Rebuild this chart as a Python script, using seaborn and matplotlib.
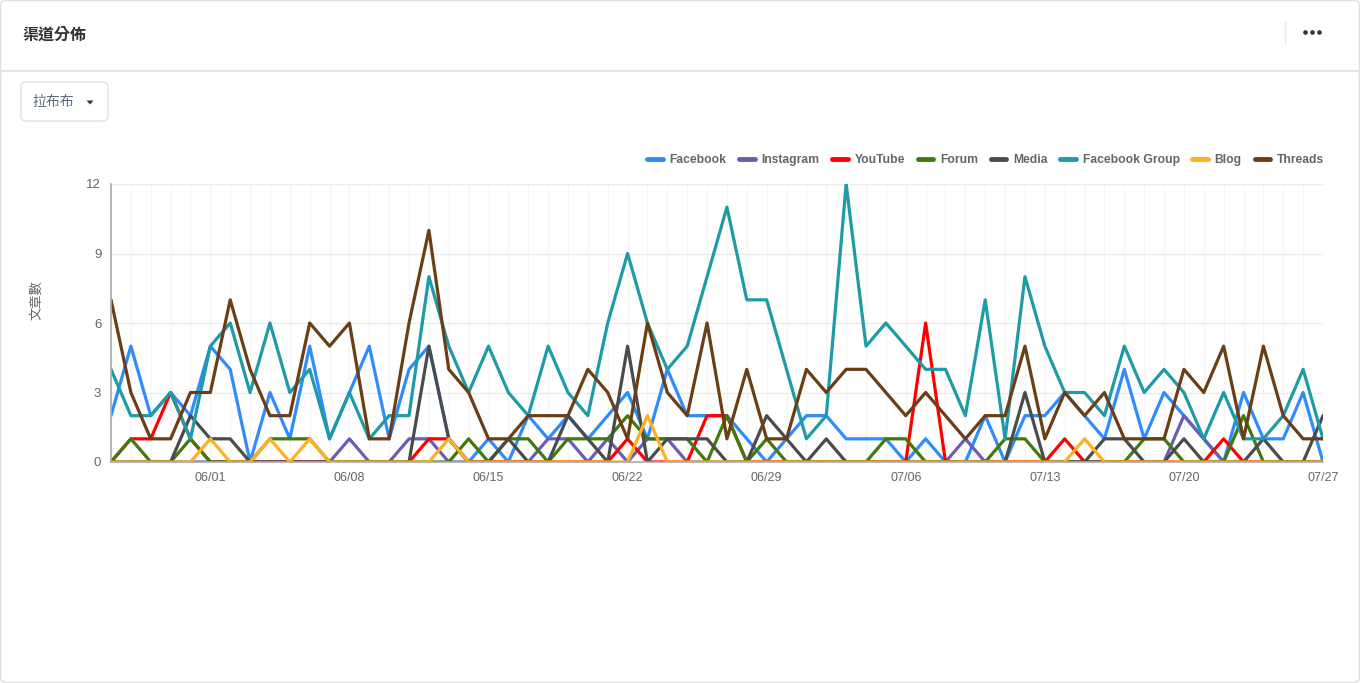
import pandas as pd
import matplotlib
matplotlib.use('Agg')
from matplotlib import pyplot as plt
from matplotlib.patches import FancyBboxPatch, Polygon
from matplotlib.lines import Line2D
from matplotlib.transforms import IdentityTransform
import seaborn as sns

W, H = 1360, 683

# daily posts per channel, 05/27 - 07/27
dates = pd.date_range('2025-05-27', '2025-07-27', freq='D')
facebook = [2, 5, 2, 3, 2, 5, 4, 0, 3, 1, 5, 1, 3, 5, 1, 4, 5, 1, 0, 1, 0, 2, 1, 2, 1, 2, 3, 1, 4, 2, 2,
            2, 1, 0, 1, 2, 2, 1, 1, 1, 0, 1, 0, 0, 2, 0, 2, 2, 3, 2, 1, 4, 1, 3, 2, 1, 0, 3, 1, 1, 3, 0]
instagram = [0, 0, 0, 0, 0, 0, 0, 0, 0, 0, 0, 0, 1, 0, 0, 1, 1, 0, 0, 0, 0, 0, 1, 1, 0, 1, 0, 1, 1, 0, 0,
             0, 0, 0, 0, 0, 0, 0, 0, 0, 0, 0, 0, 1, 0, 0, 0, 0, 0, 0, 0, 0, 0, 0, 2, 1, 0, 0, 0, 0, 0, 0]
youtube = [0, 1, 1, 3, 1, 0, 0, 0, 0, 0, 0, 0, 0, 0, 0, 0, 1, 1, 0, 0, 0, 0, 0, 0, 0, 0, 1, 0, 0, 0, 2,
           2, 0, 0, 0, 0, 0, 0, 0, 0, 0, 6, 0, 0, 0, 0, 0, 0, 1, 0, 0, 0, 0, 0, 0, 0, 1, 0, 0, 0, 0, 0]
forum = [0, 1, 0, 0, 1, 0, 0, 0, 1, 1, 1, 0, 0, 0, 0, 0, 0, 0, 1, 0, 1, 1, 0, 1, 1, 1, 2, 1, 1, 1, 0,
         2, 0, 1, 0, 0, 0, 0, 0, 1, 1, 0, 0, 0, 0, 1, 1, 0, 0, 0, 0, 0, 1, 1, 0, 0, 0, 2, 0, 0, 0, 0]
media = [0, 0, 0, 0, 2, 1, 1, 0, 0, 0, 0, 0, 0, 0, 0, 0, 5, 1, 0, 0, 1, 0, 0, 2, 1, 0, 5, 0, 1, 1, 1,
         0, 0, 2, 1, 0, 1, 0, 0, 0, 0, 0, 0, 0, 0, 0, 3, 0, 0, 0, 1, 1, 0, 0, 1, 0, 0, 0, 1, 0, 0, 2]
fb_group = [4, 2, 2, 3, 1, 5, 6, 3, 6, 3, 4, 1, 3, 1, 2, 2, 8, 5, 3, 5, 3, 2, 5, 3, 2, 6, 9, 6, 4, 5, 8,
            11, 7, 7, 4, 1, 2, 12, 5, 6, 5, 4, 4, 2, 7, 1, 8, 5, 3, 3, 2, 5, 3, 4, 3, 1, 3, 1, 1, 2, 4, 1]
blog = [0, 0, 0, 0, 0, 1, 0, 0, 1, 0, 1, 0, 0, 0, 0, 0, 0, 1, 0, 0, 0, 0, 0, 0, 0, 0, 0, 2, 0, 0, 0,
        0, 0, 0, 0, 0, 0, 0, 0, 0, 0, 0, 0, 0, 0, 0, 0, 0, 0, 1, 0, 0, 0, 0, 0, 0, 0, 0, 0, 0, 0, 0]
threads = [7, 3, 1, 1, 3, 3, 7, 4, 2, 2, 6, 5, 6, 1, 1, 6, 10, 4, 3, 1, 1, 2, 2, 2, 4, 3, 1, 6, 3, 2, 6,
           1, 4, 1, 1, 4, 3, 4, 4, 3, 2, 3, 2, 1, 2, 2, 5, 1, 3, 2, 3, 1, 1, 1, 4, 3, 5, 1, 5, 2, 1, 1]

channels = ['Facebook', 'Instagram', 'YouTube', 'Forum', 'Media', 'Facebook Group', 'Blog', 'Threads']
colors = ['#2f8cff', '#6b5cb8', '#ff0000', '#3f7a0a', '#4b4b4b', '#1e9ba7', '#ffb01f', '#6b3e15']
week_labels = ['06/01', '06/08', '06/15', '06/22', '06/29', '07/06', '07/13', '07/20', '07/27']

df = pd.DataFrame({'date': dates, 'Facebook': facebook, 'Instagram': instagram, 'YouTube': youtube,
                   'Forum': forum, 'Media': media, 'Facebook Group': fb_group, 'Blog': blog,
                   'Threads': threads})
long_df = df.melt(id_vars='date', var_name='channel', value_name='count')

sns.set_style('white')
plt.rcParams['font.family'] = ['Liberation Sans', 'Noto Sans CJK TC', 'DejaVu Sans']

fig = plt.figure(figsize=(W / 100, H / 100), dpi=100)
fig.patch.set_facecolor('white')


def fx(px):
    return px / W


def fy(py):
    return 1 - py / H


ax = fig.add_axes([fx(111), fy(462), fx(1323) - fx(111), fy(184) - fy(462)])
sns.lineplot(data=long_df, x='date', y='count', hue='channel', hue_order=channels,
             palette=dict(zip(channels, colors)), linewidth=2.3, legend=False, ax=ax)

ax.set_xlim(dates[0], dates[-1])
ax.set_ylim(0, 12)
ax.set_yticks([0, 3, 6, 9, 12])
ax.set_xticks(dates)
day_strings = [d.strftime('%m/%d') for d in dates]
ax.set_xticklabels([s if s in week_labels else '' for s in day_strings])
ax.set_xlabel('')
ax.set_ylabel('')
ax.tick_params(axis='x', length=5, width=1, color='#aaaaaa', labelsize=9, labelcolor='#666666', pad=2)
ax.tick_params(axis='y', length=4, width=1, color='#aaaaaa', labelsize=9.5, labelcolor='#666666', pad=3)
ax.grid(axis='y', color='#ececec', linewidth=1)
ax.grid(axis='x', color='#f5f5f5', linewidth=1)
ax.set_axisbelow(True)
for side in ['top', 'right']:
    ax.spines[side].set_visible(False)
for side in ['left', 'bottom']:
    ax.spines[side].set_color('#aaaaaa')
    ax.spines[side].set_linewidth(1.2)

# legend
handles = [Line2D([], [], color=c, linewidth=3.5) for c in colors]
leg = fig.legend(handles, channels, loc='center right', bbox_to_anchor=(fx(1324), fy(160)),
                 ncol=8, frameon=False, handlelength=1.3, handletextpad=0.55, columnspacing=1.05,
                 borderpad=0, borderaxespad=0, prop={'size': 8.7, 'weight': 'bold'})
for t in leg.get_texts():
    t.set_color('#666666')

fig.text(fx(37), fy(300), '文章數', rotation=90, ha='center', va='center',
         fontsize=9.5, color='#666666', family=['Noto Sans CJK TC', 'DejaVu Sans'])

# card chrome
fig.text(fx(22), fy(35), '渠道分佈', ha='left', va='center', fontsize=11.5, fontweight='bold',
         color='#333333', family=['Noto Sans CJK TC', 'DejaVu Sans'])
fig.add_artist(Line2D([0, 1], [fy(71), fy(71)], color='#e4e4e4', linewidth=1.5))
fig.add_artist(Line2D([fx(1285), fx(1285)], [fy(22), fy(44)], color='#e6e6e6', linewidth=1))
fig.add_artist(Line2D([fx(1305), fx(1312), fx(1319)], [fy(32)] * 3, linestyle='none',
                      marker='o', markersize=2.3, color='#333333'))
fig.add_artist(FancyBboxPatch((0.5, 0.5), W - 1, H - 1, boxstyle='round,pad=0,rounding_size=6',
                              transform=IdentityTransform(), facecolor='none',
                              edgecolor='#dedede', linewidth=1))
fig.add_artist(FancyBboxPatch((21, H - 121), 87, 39, boxstyle='round,pad=0,rounding_size=5',
                              transform=IdentityTransform(), facecolor='white',
                              edgecolor='#e2e2e2', linewidth=1))
fig.text(fx(32), fy(102), '拉布布', ha='left', va='center', fontsize=10, color='#5f6b7a',
         family=['Noto Sans CJK TC', 'DejaVu Sans'])
fig.add_artist(Polygon([(86.5, H - 100.5), (93.5, H - 100.5), (90, H - 104.5)], closed=True,
                       transform=IdentityTransform(), color='#333333', linewidth=0))

fig.savefig('out.png', dpi=100, facecolor='white')
